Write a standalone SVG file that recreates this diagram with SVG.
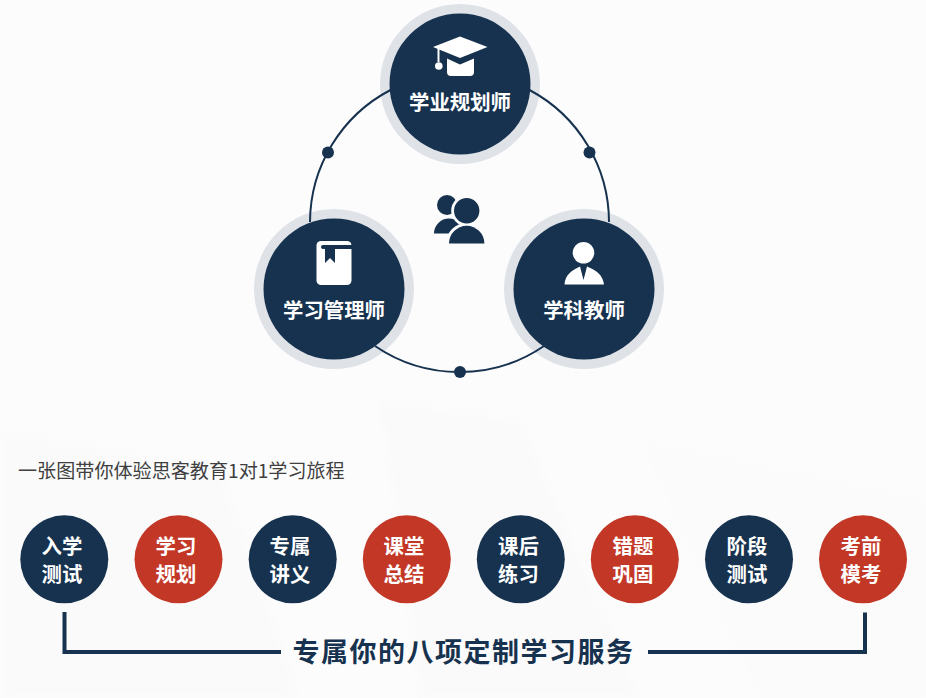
<svg xmlns="http://www.w3.org/2000/svg" width="926" height="698" viewBox="0 0 926 698">
<style>
text{font-family:"Noto Sans CJK SC","Noto Sans",sans-serif}
.lbl{font-size:20.4px;font-weight:700;fill:#fff;text-anchor:middle}
.navy{fill:#16324f}.red{fill:#c23726}.ring{fill:#dfe3e8}.ico{fill:#fff}
.arc{fill:none;stroke:#16324f;stroke-width:2}
.brk{fill:none;stroke:#16324f;stroke-width:4}
</style>
<defs><filter id="soft" x="-10%" y="-10%" width="120%" height="120%"><feGaussianBlur stdDeviation="5"/></filter></defs>
<g id="background">
<rect width="926" height="698" fill="#fcfcfd"/>
<g filter="url(#soft)">
<polygon points="0,430 220,470 300,698 0,698" fill="#fafafb"/>
<polygon points="380,400 520,420 640,698 420,698" fill="#fafafb"/>
<polygon points="640,440 926,500 926,698 760,698" fill="#fbfbfc"/>
</g>
</g>
<g id="node-planner">
<circle class="ring" cx="460" cy="84" r="80"/><circle class="navy" cx="460" cy="84" r="70.5"/>
<polygon class="ico" points="460,36.5 487.5,47 460,58 433,47"/>
<path class="ico" d="M447 58.5L460 64.5L474 58.5V72Q474 76 470 76H451Q447 76 447 72Z"/>
<path class="ico" d="M437.5 47.5h2V62h-2Z"/><circle class="ico" cx="438.8" cy="66" r="3.8"/>
<text class="lbl" x="460" y="110">学业规划师</text>
</g>
<g id="node-manager">
<circle class="ring" cx="334" cy="289" r="80"/><circle class="navy" cx="334" cy="289" r="70.5"/>
<rect class="ico" x="316.5" y="241" width="35" height="44" rx="4.5"/>
<path class="navy" d="M323 245H352V249H335V263L330 258L325 263V249H323Q321 249 321 247Q321 245 323 245Z"/>
<text class="lbl" x="334" y="317.5">学习管理师</text>
</g>
<g id="node-teacher">
<circle class="ring" cx="584" cy="289" r="80"/><circle class="navy" cx="584" cy="289" r="70.5"/>
<circle class="ico" cx="583.5" cy="252.8" r="10.8"/>
<path class="ico" d="M564.5 284.5C565 275 572 270 580 266.5L583.5 280L587 266.5C596 270 603 275 604 284.5Z"/>
<text class="lbl" x="584" y="317.5">学科教师</text>
</g>
<g id="connectors">
<path class="arc" d="M310 222A150 150 0 0 1 390.5 90"/>
<path class="arc" d="M529.5 90A150 150 0 0 1 609 222"/>
<path class="arc" d="M544 346A150 150 0 0 1 375 346"/>
<circle class="navy" cx="328" cy="152.5" r="6"/>
<circle class="navy" cx="589.5" cy="152.5" r="6"/>
<circle class="navy" cx="460" cy="372" r="6"/>
<path class="brk" d="M64.5 612V652H281"/>
<path class="brk" d="M648 652H865V612.5"/>
</g>
<g id="center-icon">
<circle class="navy" cx="447" cy="205" r="10"/>
<path class="navy" d="M434 233.5A15 15 0 0 1 464 233.5Z"/>
<circle cx="466.7" cy="210.7" r="15.5" fill="#fcfcfd"/>
<path d="M446 246V243.5A20.5 20.5 0 0 1 487 243.5V246Z" fill="#fcfcfd"/>
<circle class="navy" cx="466.7" cy="210.7" r="12.7"/>
<path class="navy" d="M449 243.5A17.7 17.7 0 0 1 484.4 243.5Z"/>
</g>
<text id="intro" x="18" y="478" font-size="19.1" fill="#3f3f3f">一张图带你体验思客教育1对1学习旅程</text>
<g id="step-1"><circle class="navy" cx="64.3" cy="559.3" r="44"/><text class="lbl" x="62" y="554">入学</text><text class="lbl" x="62" y="582">测试</text></g>
<g id="step-2"><circle class="red" cx="178.5" cy="559.3" r="44"/><text class="lbl" x="176" y="554">学习</text><text class="lbl" x="176" y="582">规划</text></g>
<g id="step-3"><circle class="navy" cx="292.7" cy="559.3" r="44"/><text class="lbl" x="290" y="554">专属</text><text class="lbl" x="290" y="582">讲义</text></g>
<g id="step-4"><circle class="red" cx="406.8" cy="559.3" r="44"/><text class="lbl" x="404" y="554">课堂</text><text class="lbl" x="404" y="582">总结</text></g>
<g id="step-5"><circle class="navy" cx="520.8" cy="559.3" r="44"/><text class="lbl" x="518.5" y="554">课后</text><text class="lbl" x="518.5" y="582">练习</text></g>
<g id="step-6"><circle class="red" cx="634.8" cy="559.3" r="44"/><text class="lbl" x="633" y="554">错题</text><text class="lbl" x="633" y="582">巩固</text></g>
<g id="step-7"><circle class="navy" cx="749" cy="559.3" r="44"/><text class="lbl" x="747" y="554">阶段</text><text class="lbl" x="747" y="582">测试</text></g>
<g id="step-8"><circle class="red" cx="863" cy="559.3" r="44"/><text class="lbl" x="861" y="554">考前</text><text class="lbl" x="861" y="582">模考</text></g>
<text id="caption" x="292.5" y="661.5" font-size="27" font-weight="700" letter-spacing="1.5" fill="#16324f">专属你的八项定制学习服务</text>
</svg>
